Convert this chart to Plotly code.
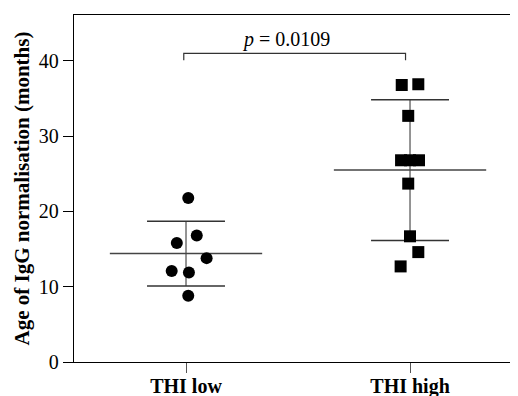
import plotly.graph_objects as go

categories = ["THI low", "THI high"]
low_values = [21.8, 16.8, 15.8, 13.8, 12.1, 11.9, 8.8]
high_values = [36.8, 36.9, 32.7, 26.8, 26.8, 26.8, 23.7, 16.7, 14.6, 12.7]
group_means = [14.4, 25.5]
group_sd = [4.3, 9.35]
p_label = "p = 0.0109"
y_ticks = [0, 10, 20, 30, 40]

# horizontal jitter (category units) used to separate overlapping points
low_jitter = [0.01, 0.048, -0.041, 0.092, -0.064, 0.013, 0.01]
high_jitter = [-0.037, 0.037, -0.008, -0.04, 0.0, 0.04, -0.008, 0.0, 0.037, -0.042]

fig = go.Figure()

mean_half = 0.34
sd_half = 0.174
for i, (m, s) in enumerate(zip(group_means, group_sd)):
    fig.add_trace(go.Scatter(x=[i, i], y=[m - s, m + s], mode="lines",
                             line=dict(color="#7a7a7a", width=1.6),
                             showlegend=False, hoverinfo="skip"))
    fig.add_trace(go.Scatter(x=[i - sd_half, i + sd_half, None, i - sd_half, i + sd_half],
                             y=[m + s, m + s, None, m - s, m - s], mode="lines",
                             line=dict(color="#333333", width=1.5),
                             showlegend=False, hoverinfo="skip"))
    fig.add_trace(go.Scatter(x=[i - mean_half, i + mean_half], y=[m, m], mode="lines",
                             line=dict(color="#444444", width=1.5),
                             showlegend=False, hoverinfo="skip"))

fig.add_trace(go.Scatter(x=[0 + j for j in low_jitter], y=low_values, mode="markers",
                         marker=dict(symbol="circle", size=12, color="black"),
                         showlegend=False))
fig.add_trace(go.Scatter(x=[1 + j for j in high_jitter], y=high_values, mode="markers",
                         marker=dict(symbol="square", size=12, color="black"),
                         showlegend=False))

fig.add_trace(go.Scatter(x=[-0.01, -0.01, 0.98, 0.98], y=[40.1, 41.0, 41.0, 40.1],
                         mode="lines", line=dict(color="#333333", width=1.2),
                         showlegend=False, hoverinfo="skip"))
p_parts = p_label.split(" ", 1)
fig.add_annotation(x=0.446, y=41.0, xref="x", yref="y",
                   text="<i>" + p_parts[0] + "</i> " + p_parts[1],
                   showarrow=False, yanchor="bottom",
                   font=dict(family="Liberation Serif", size=20, color="black"))

fig.update_xaxes(range=[-0.5, 1.482], tickvals=[0, 1], ticktext=categories,
                 showline=True, linecolor="black", linewidth=1.3, mirror=True,
                 ticks="outside", ticklen=10, tickcolor="#555555", tickwidth=1.3,
                 ticklabelstandoff=-4, automargin=False,
                 showgrid=False, zeroline=False,
                 tickfont=dict(family="Liberation Serif", size=20, color="black", weight="bold"))
fig.update_yaxes(range=[0, 46.1], tickvals=y_ticks,
                 showline=True, linecolor="black", linewidth=1.3,
                 ticks="outside", ticklen=10, tickcolor="black", tickwidth=1.3,
                 showgrid=False, zeroline=False, automargin=False,
                 tickfont=dict(family="Liberation Serif", size=20, color="black"),
                 title=dict(text="Age of IgG normalisation (months)", standoff=3,
                            font=dict(family="Liberation Serif", size=21, color="black", weight="bold")))

# page has an 8px body margin, so the figure is sized to fit the 518x396 window
fig.update_layout(width=510, height=388, margin=dict(l=66, r=0, t=7, b=34),
                  plot_bgcolor="white", paper_bgcolor="white")

fig.write_html("out.html")
